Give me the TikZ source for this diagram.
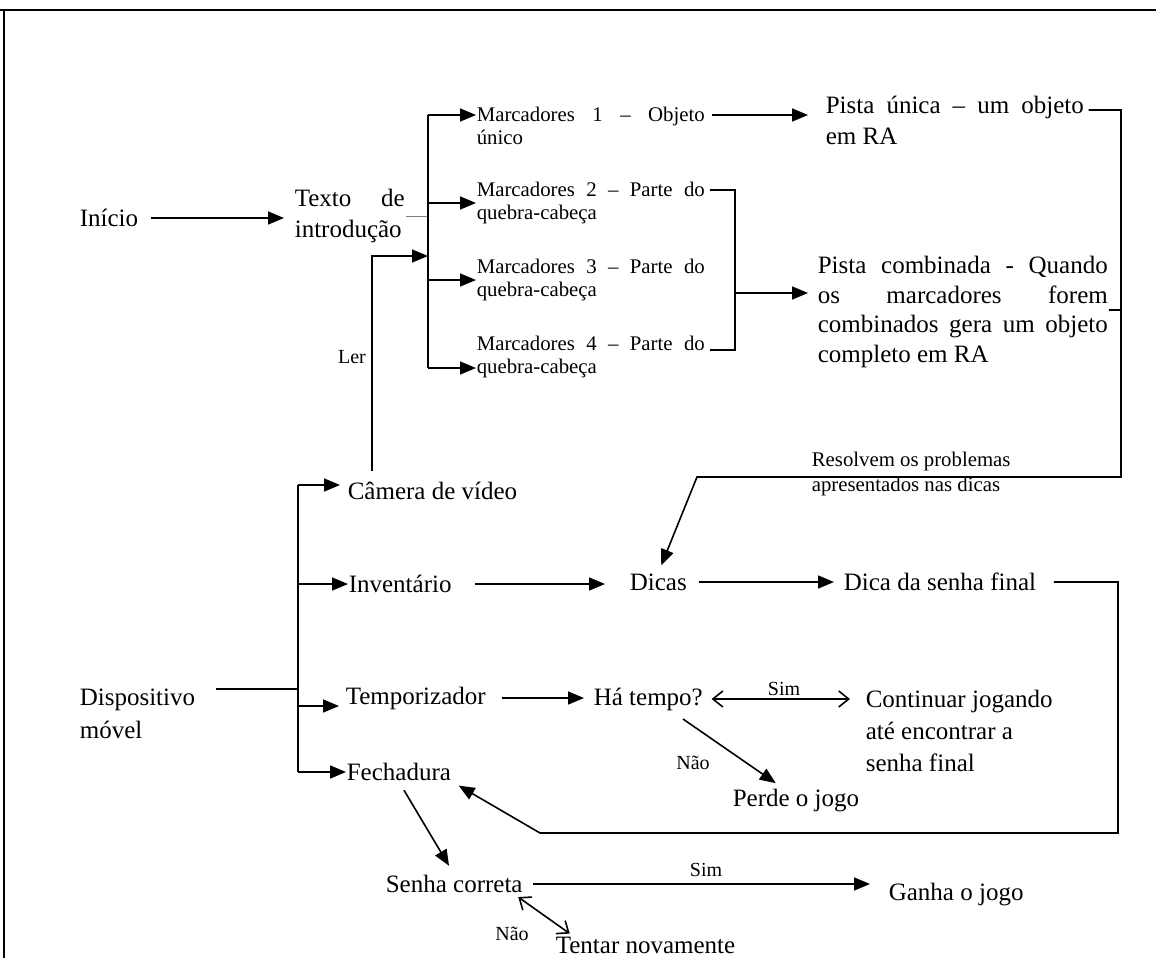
\documentclass[tikz,border=0pt]{standalone}
\usepackage{fontspec}
\setmainfont{Liberation Serif}
\usetikzlibrary{arrows.meta}

\begin{document}
\begin{tikzpicture}[x=0.5pt, y=-0.5pt, line width=0.8pt,
    txt/.style={inner sep=0pt, anchor=west, font=\fontsize{12.5}{15.5}\selectfont},
    sml/.style={inner sep=0pt, anchor=west, font=\fontsize{10.4}{11.5}\selectfont},
    lbl/.style={inner sep=0pt, font=\fontsize{10}{12}\selectfont},
    arr/.style={-{Triangle[length=8pt,width=6.5pt]}},
    opn/.style={{Straight Barb[length=5pt,width=8pt]}-{Straight Barb[length=5pt,width=8pt]}}]
    \useasboundingbox (0,0) rectangle (1156,958);

    % Frame
    \draw[line width=1pt] (0,10) -- (1156,10);
    \draw[line width=1pt] (4,10) -- (4,958);

    % Start and intro text
    \node[txt] (inicio) at (79,218) {Início};
    \node[txt, text width=55pt, align=justify] (texto) at (294,216) {Texto de\linebreak introdução};
    \draw[arr, shorten <=6pt, shorten >=5pt] (inicio.east) -- (inicio.east -| texto.west);

    % Markers
    \coordinate (b1t) at (428,115);
    \coordinate (b1b) at (428,368);
    \node[sml, text width=114pt, align=justify] (m1) at (476,126) {Marcadores 1 -- Objeto\linebreak único};
    \node[sml, text width=114pt, align=justify] (m2) at (476,203) {Marcadores 2 -- Parte do\linebreak quebra-cabeça};
    \node[sml, text width=114pt, align=justify] (m3) at (476,280) {Marcadores 3 -- Parte do\linebreak quebra-cabeça};
    \node[sml, text width=114pt, align=justify] (m4) at (476,357) {Marcadores 4 -- Parte do\linebreak quebra-cabeça};
    \draw[gray, line width=0.5pt] (texto.east) -- (texto.east -| b1t);
    \draw (b1t) -- (b1b);
    \draw[arr] (b1t) -- (b1t -| m1.west);
    \draw[arr] (b1t |- m2.west) -- (m2.west);
    \draw[arr] (b1t |- m3.west) -- (m3.west);
    \draw[arr] (b1b) -- (b1b -| m4.west);

    % Clues
    \node[txt, text width=129pt, align=justify] (pu) at (825,120) {Pista única -- um objeto\linebreak em RA};
    \node[txt, text width=145pt, align=justify, font=\fontsize{12.5}{14.7}\selectfont] (pc) at (817,312)
        {Pista combinada - Quando\linebreak os marcadores forem\linebreak combinados gera um objeto\linebreak completo em RA};
    \draw[arr, shorten <=3pt, shorten >=8.5pt] (m1.east |- b1t) -- (b1t -| pu.west);
    \coordinate (brt) at (735,190);
    \coordinate (brm) at (735,293);
    \coordinate (brb) at (735,350);
    \draw[shorten <=2pt, shorten >=2pt] (brt -| m2.east) -- (brt) -- (brb) -- (brb -| m4.east);
    \draw[arr, shorten >=4.5pt] (brm) -- (brm -| pc.west);

    % Camera reads the markers
    \node[txt] (camera) at (347,491) {Câmera de vídeo};
    \coordinate (lerc) at (372,256);
    \draw[arr, shorten <=5pt] (camera.north -| lerc) -- (lerc) -- (lerc -| b1t);
    \node[lbl] (ler) at (352,357) {Ler};

    % Back to the hints
    \node[txt] (dicas) at (629,582) {Dicas};
    \coordinate (rt) at (1121,110);
    \coordinate (rs) at (1121,310);
    \coordinate (rb) at (1121,477);
    \coordinate (rd) at (697,477);
    \draw[arr, shorten <=2pt, shorten >=4pt] (pu.east |- rt) -- (rt) -- (rb) -- (rd) -- (dicas.north);
    \draw (rs -| pc.east) -- (rs);
    \node[sml, align=left, font=\fontsize{10.4}{12.5}\selectfont] (resol) at (811,474)
        {Resolvem os problemas\\apresentados nas dicas};

    % Mobile device
    \node[txt, align=left, font=\fontsize{12.5}{16.5}\selectfont] (disp) at (79,714) {Dispositivo\\móvel};
    \coordinate (b2t) at (298,485);
    \coordinate (dj) at (298,689);
    \coordinate (tj) at (298,706);
    \coordinate (b2b) at (298,772);
    \draw (b2t) -- (b2b);
    \draw[shorten <=10pt] (dj -| disp.east) -- (dj);
    \draw[arr, shorten >=3.5pt] (b2t) -- (b2t -| camera.west);

    \node[txt] (inv) at (348,584) {Inventário};
    \draw[arr] (b2t |- inv.west) -- (inv.west);
    \draw[arr, shorten <=11.5pt, shorten >=12pt] (inv.east) -- (inv.east -| dicas.west);
    \node[txt] (dsf) at (843,582) {Dica da senha final};
    \draw[arr, shorten <=5.5pt, shorten >=4.5pt] (dicas.east) -- (dicas.east -| dsf.west);

    % Timer
    \node[txt] (temp) at (345,698) {Temporizador};
    \draw[arr, shorten >=3pt] (tj) -- (tj -| temp.west);
    \node[txt] (hat) at (593,699) {Há tempo?};
    \draw[arr, shorten <=8pt, shorten >=4.5pt] (temp.east) -- (temp.east -| hat.west);
    \node[txt, align=left, font=\fontsize{12.5}{16}\selectfont] (cont) at (865,731)
        {Continuar jogando\\até encontrar a\\senha final};
    \draw[opn, shorten <=4pt, shorten >=7.5pt] (hat.east) -- (hat.east -| cont.west);
    \node[lbl] (sim1) at (784,689) {Sim};
    \node[txt] (perde) at (732,801) {Perde o jogo};
    \coordinate (n1) at (683,719);
    \draw[arr, shorten >=5pt] (n1) -- ([xshift=-6pt]perde.north);
    \node[lbl] (nao1) at (693,763) {Não};

    % Lock
    \node[txt] (fech) at (346,772) {Fechadura};
    \draw[arr] (b2b) -- (b2b -| fech.west);
    \coordinate (qb) at (1118,833);
    \coordinate (ql) at (540,833);
    \draw[arr, shorten <=8.5pt, shorten >=4pt] (dsf.east) -- (dsf.east -| qb) -- (qb) -- (ql) -- (fech.south east);

    \node[txt] (senha) at (385,884) {Senha correta};
    \draw[arr, shorten <=5pt, shorten >=5pt] (fech.south) -- (senha.north);
    \node[txt] (ganha) at (888,895) {Ganha o jogo};
    \draw[arr, shorten <=5pt, shorten >=9pt] (senha.east) -- (senha.east -| ganha.west);
    \node[lbl] (sim2) at (706,870) {Sim};
    \node[txt] (tentar) at (555,945) {Tentar novamente};
    \draw[opn, shorten <=3pt, shorten >=2pt] ([xshift=-5pt]senha.south east) -- ([xshift=9pt]tentar.north west);
    \node[lbl] (nao2) at (512,934) {Não};
\end{tikzpicture}
\end{document}
